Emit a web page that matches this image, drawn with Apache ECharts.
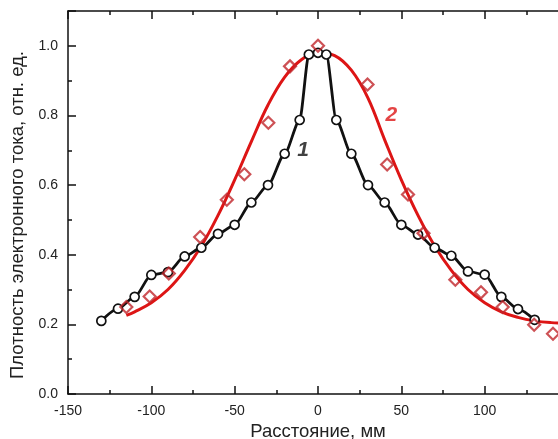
<!DOCTYPE html>
<html><head><meta charset="utf-8">
<script src="https://cdn.jsdelivr.net/npm/echarts@6/dist/echarts.min.js"></script>
<style>html,body{margin:0;padding:0;background:#fff}#c{width:558px;height:439px}</style>
</head><body><div id="c"></div>
<script>
// Curve 1 (black, circles)
const x1 = [-130,-120,-110,-100,-90,-80,-70,-60,-50,-40,-30,-20,-11,-5.5,0,5,11,20,30,40,50,60,70,80,90,100,110,120,130];
const y1 = [0.21,0.245,0.279,0.342,0.35,0.395,0.42,0.46,0.486,0.55,0.60,0.69,0.787,0.975,0.98,0.975,0.787,0.69,0.60,0.55,0.486,0.458,0.42,0.397,0.352,0.343,0.279,0.244,0.213];
// Curve 2 fit (red line)
const x2fit = [-115,-110,-100,-90,-80,-70,-60,-50,-40,-30,-20,-10,0,10,20,30,40,50,60,70,80,90,100,110,120,130,140,150];
const y2fit = [0.226,0.236,0.262,0.30,0.355,0.425,0.513,0.615,0.725,0.83,0.91,0.96,0.98,0.972,0.93,0.85,0.73,0.615,0.513,0.425,0.355,0.30,0.262,0.236,0.22,0.21,0.205,0.203];
// Curve 2 measured (red diamonds)
const x2pts = [-115,-101,-89.5,-70.7,-54.7,-44.2,-29.8,-16.8,0,29.7,41.5,54,63.3,82.4,97.8,110.8,129.7,141];
const y2pts = [0.25,0.28,0.346,0.451,0.558,0.631,0.779,0.941,1.0,0.889,0.659,0.573,0.462,0.328,0.292,0.25,0.199,0.173];
// Curve labels
const labelText = ['1','2'];
const labelX = [-9, 44];
const labelY = [0.70, 0.80];
const labelColor = ['#111','#dd1515'];
const xTitle = 'Расстояние, мм';
const yTitle = 'Плотность электронного тока, отн. ед.';

const zip = (a,b)=>a.map((v,i)=>[v,b[i]]);
const font = '"Liberation Sans", Arial, sans-serif';
const axisLine = {show:true, onZero:false, lineStyle:{color:'#111', width:1.5}};
const tick = {show:true, inside:true, length:8, lineStyle:{color:'#111', width:1.5}};
const minor = {show:true, splitNumber:2, length:4, lineStyle:{color:'#111', width:1.5}};

const chart = echarts.init(document.getElementById('c'), null, {renderer:'canvas'});
chart.setOption({
  animation:false,
  backgroundColor:'#fff',
  grid:{left:68, top:11, right:-10, bottom:45, containLabel:false, outerBoundsMode:'none'},
  xAxis:[{
    type:'value', min:-150, max:150, interval:50, position:'bottom',
    axisLine, axisTick:tick, minorTick:minor, splitLine:{show:false},
    axisLabel:{color:'#222', fontFamily:font, fontSize:14, margin:10, showMaxLabel:false},
    name:xTitle, nameLocation:'middle', nameGap:25,
    nameTextStyle:{color:'#222', fontFamily:font, fontSize:18.5}
  },{
    type:'value', min:-150, max:150, interval:50, position:'top',
    axisLine, axisTick:tick, minorTick:minor, splitLine:{show:false}, axisLabel:{show:false}
  }],
  yAxis:[{
    type:'value', min:0, max:1.1, interval:0.2, position:'left',
    axisLine, axisTick:tick, minorTick:minor, splitLine:{show:false},
    axisLabel:{color:'#222', fontFamily:font, fontSize:14, margin:10, showMaxLabel:false,
      formatter:v=>v.toFixed(1)},
    name:yTitle, nameLocation:'middle', nameGap:39,
    nameTextStyle:{color:'#222', fontFamily:font, fontSize:18.5, padding:[0,25,0,0]}
  }],
  series:[
    {type:'line', data:zip(x2fit,y2fit), smooth:0.4, showSymbol:false, symbol:'none',
     lineStyle:{color:'#dd1515', width:3}, z:2},
    {type:'line', data:zip(x1,y1), smooth:0.25, smoothMonotone:'x', symbol:'circle', symbolSize:9,
     showAllSymbol:true,
     lineStyle:{color:'#111', width:2.8},
     itemStyle:{color:'#fff', borderColor:'#111', borderWidth:1.7}, z:3},
    {type:'scatter', data:zip(x2pts,y2pts), symbol:'diamond', symbolSize:[12,12],
     itemStyle:{color:'rgba(255,255,255,0)', borderColor:'#c0262b', borderWidth:2.2}, z:4},
    {type:'scatter', symbolSize:0, z:5,
     data:labelText.map((t,i)=>({value:[labelX[i],labelY[i]],
       label:{show:true, position:'inside', formatter:t, fontFamily:font,
         fontSize:21, fontWeight:'bold', fontStyle:'italic', color:labelColor[i]}}))}
  ]
});
</script></body></html>
